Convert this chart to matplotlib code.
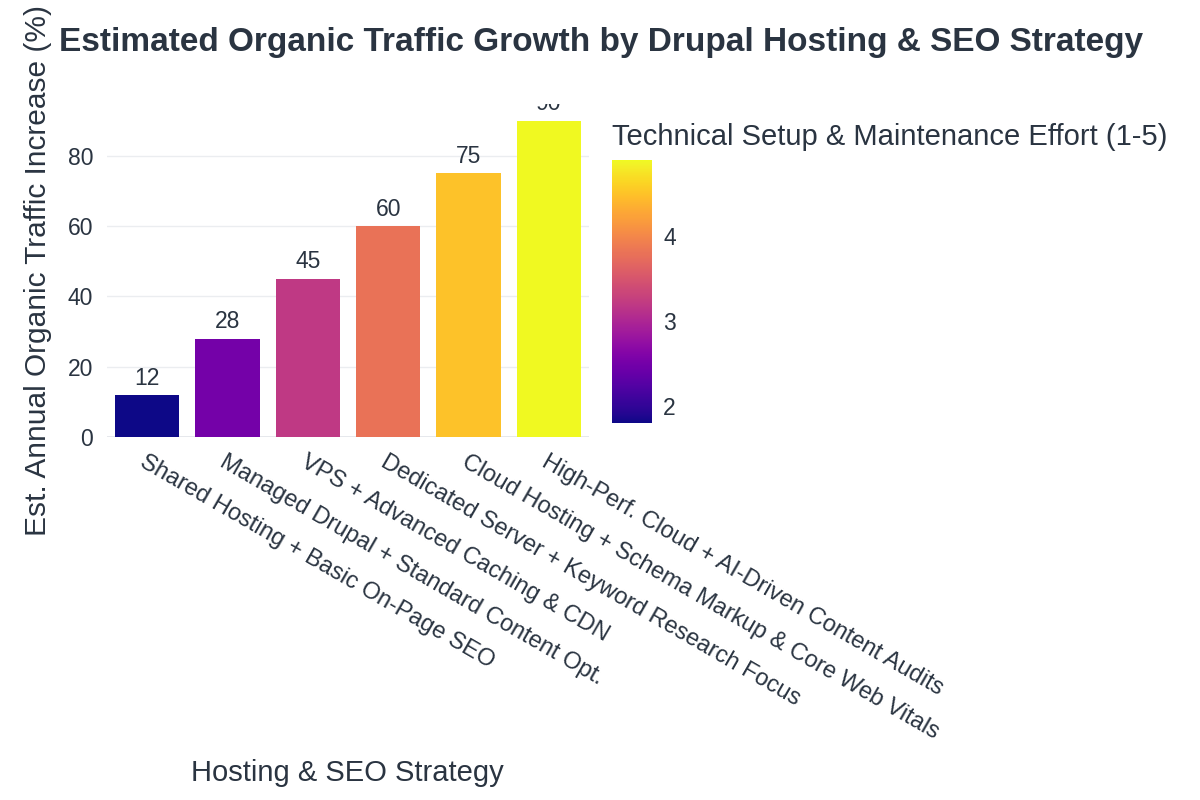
import numpy as np
import matplotlib
matplotlib.use('Agg')
import matplotlib.pyplot as plt
from matplotlib import cm, colors

plt.rcParams['font.family'] = ['Liberation Sans', 'DejaVu Sans']

# data
strategies = ['Shared Hosting + Basic On-Page SEO',
              'Managed Drupal + Standard Content Opt.',
              'VPS + Advanced Caching & CDN',
              'Dedicated Server + Keyword Research Focus',
              'Cloud Hosting + Schema Markup & Core Web Vitals',
              'High-Perf. Cloud + AI-Driven Content Audits']
traffic = [12, 28, 45, 60, 75, 90]
effort = [1.8, 2.5, 3.2, 3.8, 4.5, 4.9]

txt = '#2a3441'
grid = '#ebedf0'

fig = plt.figure(figsize=(12, 8), dpi=100)
ax = fig.add_axes([107/1200, 1-437/800, 482/1200, 333/800])

norm = colors.Normalize(min(effort), max(effort))
cmap = matplotlib.colormaps['plasma']
x = np.arange(len(strategies))
bars = ax.bar(x, traffic, width=0.8, color=cmap(norm(effort)), zorder=3)

for b, v in zip(bars, traffic):
    ax.text(b.get_x() + b.get_width()/2, v + 1.5, str(v), ha='center', va='bottom',
            fontsize=16.5, color=txt, clip_on=True, zorder=4)

ax.set_xlim(-0.5, 5.5)
ax.set_ylim(0, 94.7)
ax.set_yticks([0, 20, 40, 60, 80])
ax.grid(axis='y', color=grid, linewidth=1, zorder=0)
ax.axhline(0, color='#e2e5ea', linewidth=2, zorder=1)
for s in ax.spines.values():
    s.set_visible(False)
ax.tick_params(length=0, labelsize=16.5, labelcolor=txt)
ax.tick_params(axis='y', pad=10)
ax.set_xticks(x)
ax.set_xticklabels(strategies, rotation=-30, ha='left', va='top', rotation_mode='anchor',
                   fontsize=17)
ax.tick_params(axis='x', pad=10)

fig.text(38/1200, 1-270/800, 'Est. Annual Organic Traffic Increase (%)', fontsize=21.5, color=txt,
         rotation=90, ha='center', va='center')
fig.text(347/1200, 1-773/800, 'Hosting & SEO Strategy', fontsize=21, color=txt,
         ha='center', va='center')

fig.text(601/1200, 1-42/800, 'Estimated Organic Traffic Growth by Drupal Hosting & SEO Strategy',
         fontsize=24, fontweight='bold', color=txt, ha='center', va='center')

cax = fig.add_axes([612/1200, 1-423/800, 40/1200, 263/800])
cb = fig.colorbar(cm.ScalarMappable(norm=norm, cmap=cmap), cax=cax)
cb.outline.set_visible(False)
cb.set_ticks([2, 3, 4])
cax.tick_params(length=0, labelsize=16.5, labelcolor=txt, pad=8)
fig.text(612/1200, 1-137/800, 'Technical Setup & Maintenance Effort (1-5)', fontsize=21,
         color=txt, ha='left', va='center')

fig.savefig('out.png', dpi=100, facecolor='white')
